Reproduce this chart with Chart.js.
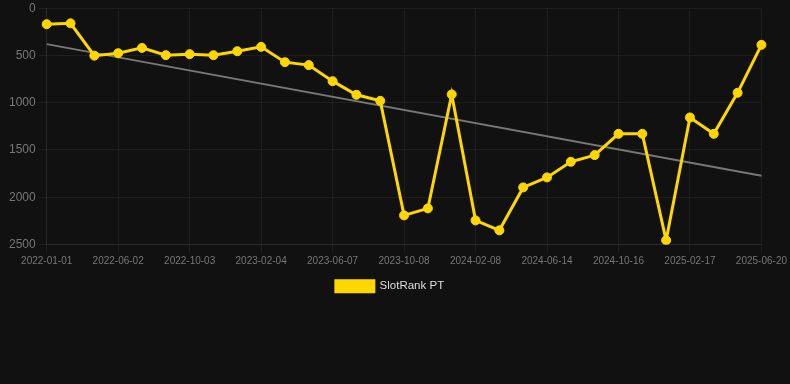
<!DOCTYPE html>
<html>
<head>
<meta charset="utf-8">
<script src="https://cdn.jsdelivr.net/npm/chart.js@4/dist/chart.umd.min.js"></script>
<style>
  html, body { margin: 0; padding: 0; background: #111111; }
  #wrap { width: 790px; height: 304px; position: relative; margin-top: -2px; }
</style>
</head>
<body>
<div id="wrap"><canvas id="myChart"></canvas></div>
<script>
var dates = [
  '2022-01-01', '2022-02-20', '2022-04-12', '2022-06-02', '2022-07-13', '2022-08-23',
  '2022-10-03', '2022-11-13', '2022-12-25', '2023-02-04', '2023-03-17', '2023-04-27',
  '2023-06-07', '2023-07-18', '2023-08-28', '2023-10-08', '2023-11-18', '2023-12-29',
  '2024-02-08', '2024-03-20', '2024-05-03', '2024-06-14', '2024-07-25', '2024-09-04',
  '2024-10-16', '2024-11-26', '2025-01-07', '2025-02-17', '2025-03-30', '2025-05-10',
  '2025-06-20'
];
var ranks = [
  169, 160, 502, 476, 420, 497, 486, 497, 455, 409, 571, 602,
  772, 916, 980, 2192, 2118, 912, 2245, 2350, 1896, 1790, 1625, 1554,
  1329, 1329, 2456, 1156, 1329, 895, 388
];
var trendStart = 380;
var trendEnd = 1773;

// nudge the centred legend a bit to the left, like the original
var legendNudge = {
  id: 'legendNudge',
  afterLayout: function (c) {
    if (c.legend && c.legend.lineWidths) c.legend.lineWidths[0] += 16;
  }
};

var chart = new Chart(document.getElementById('myChart'), {
  type: 'line',
  data: {
    labels: dates,
    datasets: [
      {
        label: 'SlotRank PT',
        data: ranks,
        borderColor: '#FFD700',
        backgroundColor: '#FFD700',
        borderWidth: 3,
        pointRadius: 4.5,
        pointBorderWidth: 1,
        pointHoverRadius: 5,
        tension: 0
      },
      {
        label: 'trend',
        data: [{x: dates[0], y: trendStart}, {x: dates[dates.length - 1], y: trendEnd}],
        borderColor: '#777777',
        backgroundColor: '#777777',
        borderWidth: 2,
        pointRadius: 0,
        tension: 0
      }
    ]
  },
  plugins: [legendNudge],
  options: {
    responsive: true,
    maintainAspectRatio: false,
    animation: false,
    layout: { padding: { top: 0, right: 0, left: 6 } },
    plugins: {
      legend: {
        position: 'bottom',
        labels: {
          color: '#dddddd',
          font: { size: 11.5, family: 'Liberation Sans, Arial, sans-serif' },
          boxWidth: 38,
          boxHeight: 11,
          filter: function (item) { return item.text !== 'trend'; }
        }
      },
      tooltip: { enabled: false }
    },
    scales: {
      x: {
        grid: {
          color: function (ctx) { return ctx.index % 3 === 0 ? '#1e1e1e' : 'rgba(0,0,0,0)'; }
        },
        border: { color: '#2a2a2a' },
        ticks: {
          color: '#777777',
          font: { size: 10, family: 'Liberation Sans, Arial, sans-serif' },
          autoSkip: false,
          maxRotation: 0,
          callback: function (v, i) { return i % 3 === 0 ? dates[i] : ''; }
        }
      },
      y: {
        reverse: true,
        min: 0,
        max: 2500,
        grid: { color: '#1e1e1e' },
        border: { color: '#2a2a2a' },
        ticks: {
          stepSize: 500,
          color: '#777777',
          font: { size: 12, family: 'Liberation Sans, Arial, sans-serif' },
          callback: function (v) { return String(v); }
        }
      }
    }
  }
});
</script>
</body>
</html>
